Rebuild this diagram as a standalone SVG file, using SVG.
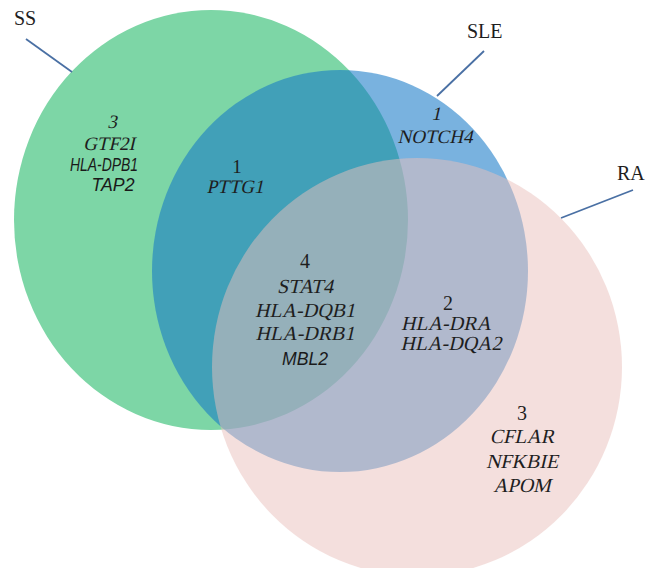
<svg xmlns="http://www.w3.org/2000/svg" width="648" height="568" viewBox="0 0 648 568">
<style>
.lbl{font-family:"Liberation Serif","Times New Roman",serif;font-size:20px;fill:#1e1e1e;}
.num{font-family:"Liberation Serif","Times New Roman",serif;font-size:19px;fill:#1e1e1e;text-anchor:middle;}
.it{font-family:"Liberation Serif","Times New Roman",serif;font-size:19px;fill:#1e1e1e;text-anchor:middle;}
.big{font-size:20px;}
.sans{font-family:"Liberation Sans",Arial,sans-serif;font-style:italic;font-size:18px;fill:#1a1a1a;text-anchor:middle;}
.lead{stroke:#4a70a4;stroke-width:1.8;fill:none;}
</style>
<rect width="648" height="568" fill="#ffffff"/>
<g id="SS">
<ellipse cx="211" cy="220" rx="197" ry="210" fill="#7dd6a6"/>
</g>
<g id="SLE">
<ellipse cx="340" cy="271" rx="188" ry="201" fill="#1377c6" fill-opacity="0.57"/>
</g>
<g id="RA">
<ellipse cx="417" cy="367" rx="205" ry="209" fill="#e9bfbb" fill-opacity="0.5"/>
</g>
<g id="connectors">
<line class="lead" x1="26" y1="39" x2="72" y2="72"/>
<line class="lead" x1="484" y1="51" x2="437" y2="96"/>
<line class="lead" x1="633" y1="190" x2="561" y2="218"/>
</g>
<g id="labels">
<text class="lbl" x="14" y="25">SS</text>
<text class="lbl" x="467" y="38">SLE</text>
<text class="lbl" x="617" y="180">RA</text>
</g>
<g id="SS-only">
<text class="it" transform="translate(112,128) skewX(-13)">3</text>
<text class="it" transform="translate(109,150) skewX(-13)">GTF2I</text>
<text class="sans" x="104" y="171" textLength="68" lengthAdjust="spacingAndGlyphs">HLA-DPB1</text>
<text class="sans" x="113" y="191" textLength="43" lengthAdjust="spacingAndGlyphs">TAP2</text>
</g>
<g id="SS-SLE">
<text class="num" x="237" y="173">1</text>
<text class="it" transform="translate(235,193) skewX(-13)">PTTG1</text>
</g>
<g id="SLE-only">
<text class="it" transform="translate(436,120) skewX(-13)">1</text>
<text class="it" transform="translate(435,143) skewX(-13)">NOTCH4</text>
</g>
<g id="all">
<text class="num big" x="305" y="268">4</text>
<text class="it big" transform="translate(305,293) skewX(-13)">STAT4</text>
<text class="it big" transform="translate(305,317) skewX(-13)">HLA-DQB1</text>
<text class="it big" transform="translate(305,340) skewX(-13)">HLA-DRB1</text>
<text class="sans" x="305" y="365" textLength="46" lengthAdjust="spacingAndGlyphs">MBL2</text>
</g>
<g id="SLE-RA">
<text class="num big" x="448" y="310">2</text>
<text class="it big" transform="translate(446,330) skewX(-13)">HLA-DRA</text>
<text class="it big" transform="translate(451,350) skewX(-13)">HLA-DQA2</text>
</g>
<g id="RA-only">
<text class="num big" x="522" y="420">3</text>
<text class="it big" transform="translate(522,443) skewX(-13)">CFLAR</text>
<text class="it big" transform="translate(522,468) skewX(-13)">NFKBIE</text>
<text class="it big" transform="translate(522,492) skewX(-13)">APOM</text>
</g>
</svg>
